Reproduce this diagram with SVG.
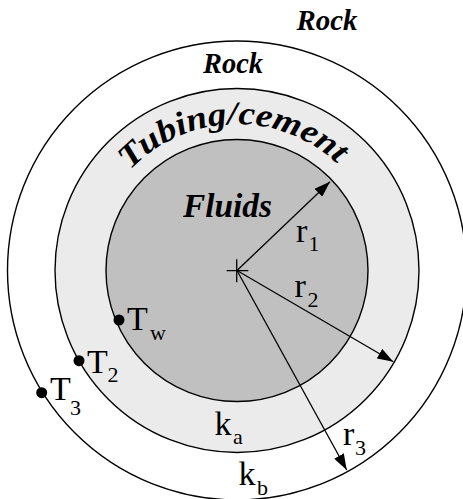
<svg xmlns="http://www.w3.org/2000/svg" width="463" height="499" viewBox="0 0 463 499">
<style>
.ring{stroke:#000;stroke-width:1.4}
.arr{stroke:#000;stroke-width:1.3;fill:none}
.bi{font-family:"Liberation Serif","Times New Roman",Times,"DejaVu Serif",serif;font-weight:bold;font-style:italic;fill:#000}
.rm{font-family:"Liberation Serif","Times New Roman",Times,"DejaVu Serif",serif;fill:#000}
</style>
<defs>
<marker id="ah" viewBox="0 0 16 11" markerWidth="16" markerHeight="11" refX="16" refY="5.5" orient="auto" markerUnits="userSpaceOnUse">
<path d="M0,0 L16,5.5 L0,11 z" fill="#000"/>
</marker>
<path id="arcTxt" d="M130.1,170.3 A147,147 0 0 1 343.9,170.3"/>
</defs>
<rect width="463" height="499" fill="#fff"/>
<g id="rock-outer">
<circle cx="237" cy="270.5" r="229.5" fill="#fff" class="ring"/>
<text class="bi" x="296.5" y="30" font-size="29" textLength="61" lengthAdjust="spacingAndGlyphs">Rock</text>
</g>
<g id="rock-inner">
<text class="bi" x="203" y="73" font-size="29" textLength="60" lengthAdjust="spacingAndGlyphs">Rock</text>
</g>
<g id="tubing">
<circle cx="237" cy="270.5" r="182" fill="#ebebeb" class="ring"/>
<text class="bi" font-size="33"><textPath href="#arcTxt" textLength="230" lengthAdjust="spacingAndGlyphs">Tubing/cement</textPath></text>
</g>
<g id="fluids">
<circle cx="237" cy="270.5" r="131" fill="#c0c0c0" class="ring"/>
<text class="bi" x="183" y="216.5" font-size="33" textLength="89" lengthAdjust="spacingAndGlyphs">Fluids</text>
</g>
<g id="connectors">
<path class="arr" d="M226.7,270.7 H248.3 M236.7,259.3 V282.3"/>
<line class="arr" x1="237" y1="270.5" x2="330" y2="181.7" marker-end="url(#ah)"/>
<line class="arr" x1="237" y1="270.5" x2="393.3" y2="361.7" marker-end="url(#ah)"/>
<line class="arr" x1="237" y1="270.5" x2="346.7" y2="470" marker-end="url(#ah)"/>
</g>
<g id="label-r1"><text class="rm" x="296" y="241.5" font-size="34">r</text><text class="rm" x="308.5" y="251" font-size="22">1</text></g>
<g id="label-r2"><text class="rm" x="294.5" y="296.5" font-size="34">r</text><text class="rm" x="307.5" y="306.5" font-size="22">2</text></g>
<g id="label-r3"><text class="rm" x="343" y="445" font-size="34">r</text><text class="rm" x="355" y="455" font-size="22">3</text></g>
<g id="label-ka"><text class="rm" x="214.5" y="435" font-size="34">k</text><text class="rm" x="233" y="443.5" font-size="22">a</text></g>
<g id="label-kb"><text class="rm" x="238.5" y="485" font-size="34">k</text><text class="rm" x="257" y="495" font-size="22">b</text></g>
<g id="point-Tw"><circle cx="119" cy="320" r="5.5"/><text class="rm" x="127" y="330" font-size="34">T</text><text class="rm" x="150" y="340" font-size="22">w</text></g>
<g id="point-T2"><circle cx="79" cy="360.7" r="5.5"/><text class="rm" x="87" y="372.7" font-size="34">T</text><text class="rm" x="107.5" y="381.7" font-size="22">2</text></g>
<g id="point-T3"><circle cx="41.7" cy="392.7" r="5.5"/><text class="rm" x="50" y="400" font-size="34">T</text><text class="rm" x="70" y="415" font-size="22">3</text></g>
</svg>
